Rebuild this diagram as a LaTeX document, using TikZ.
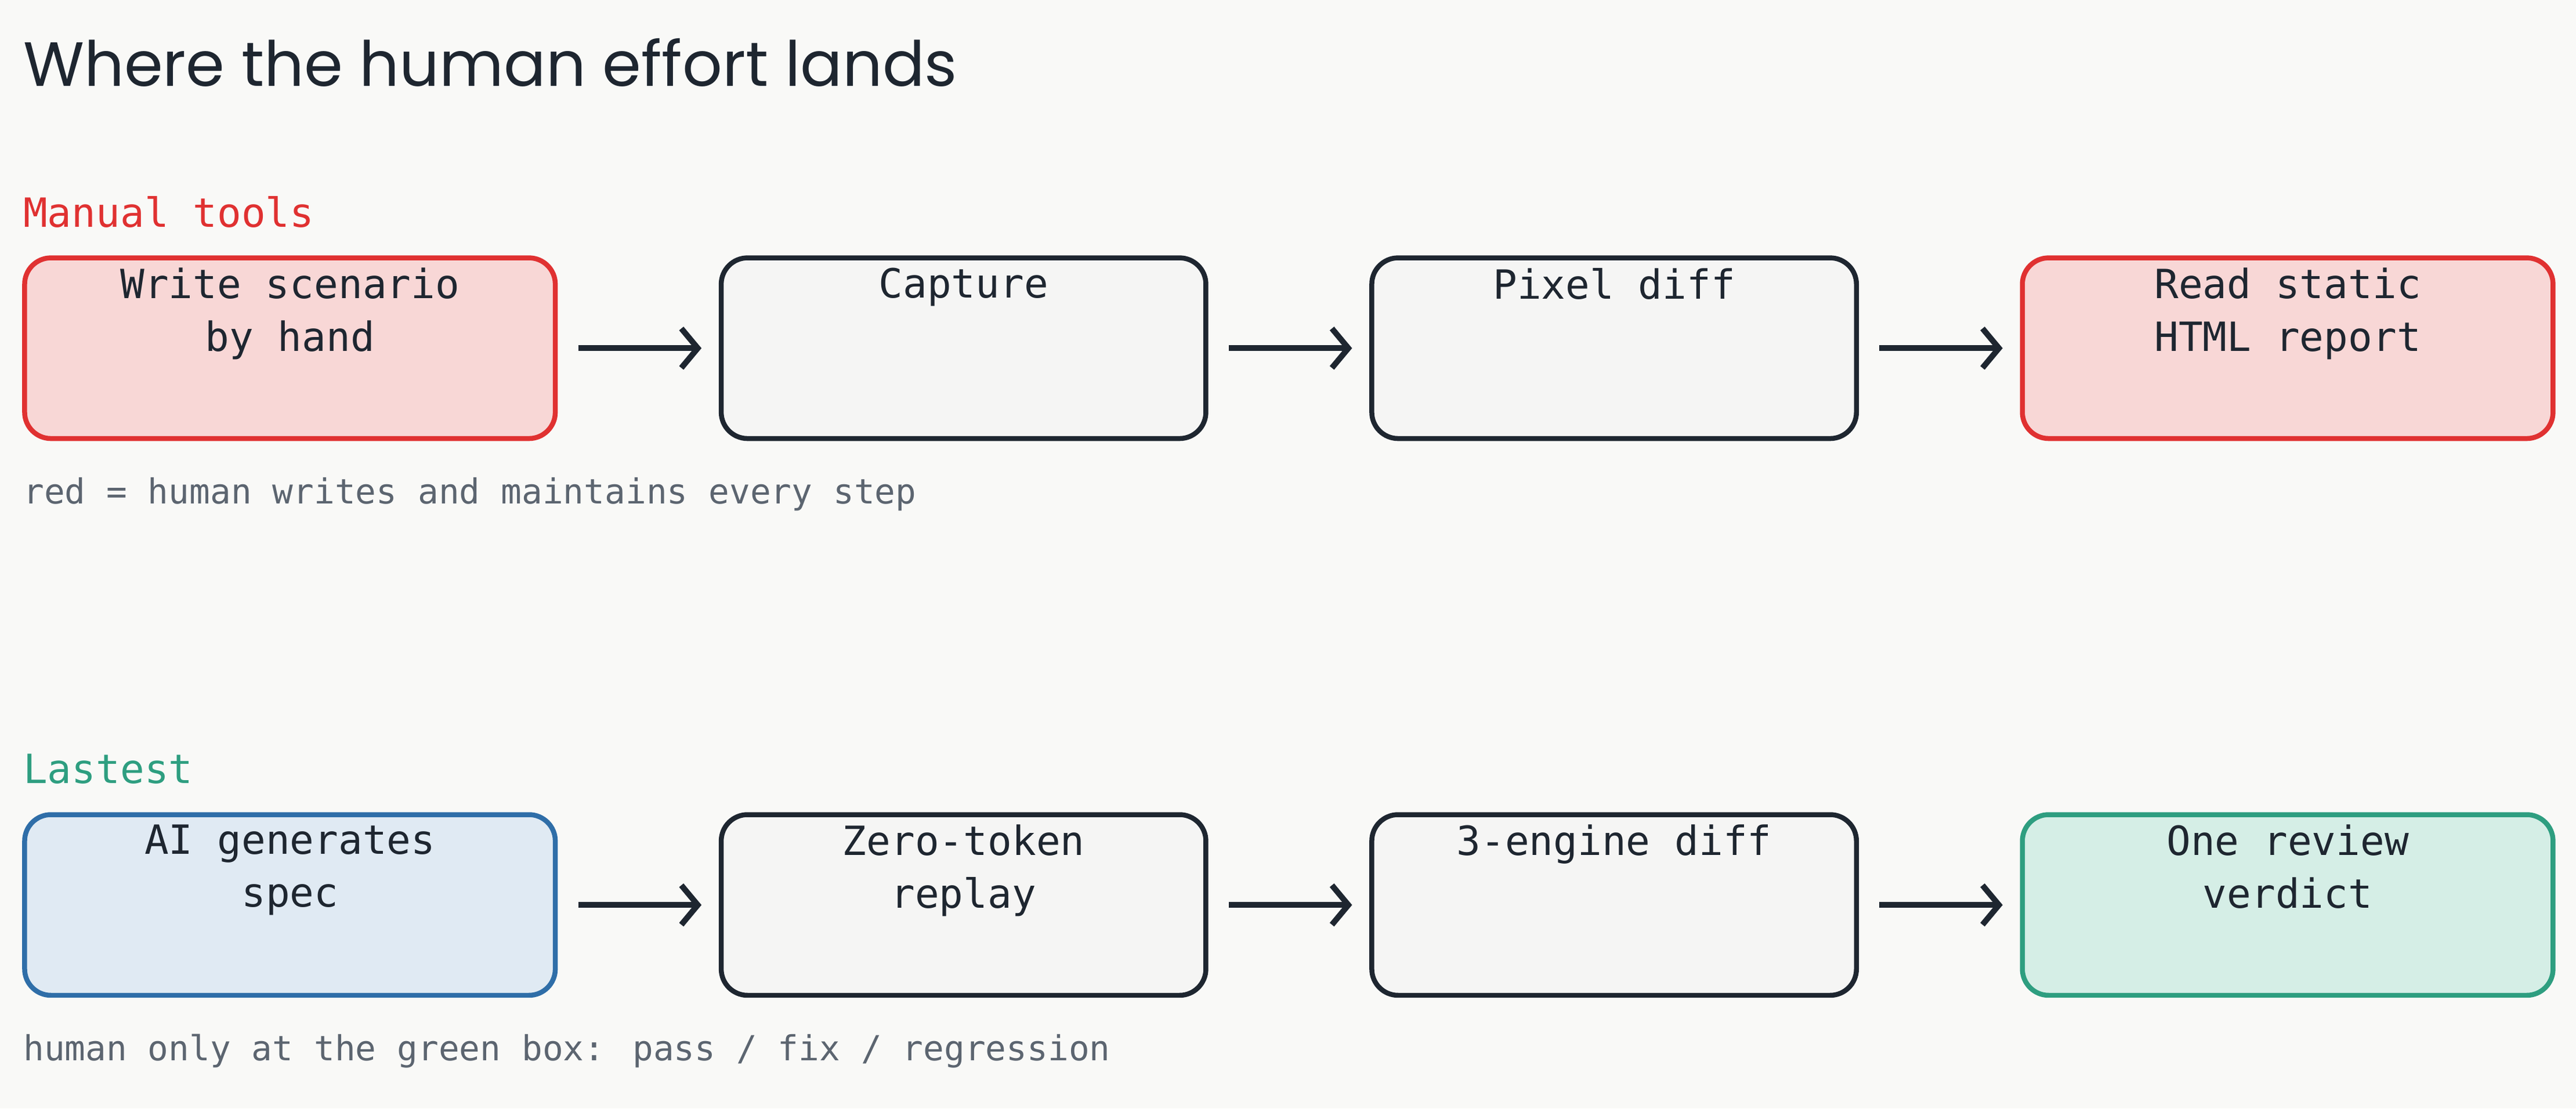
\documentclass[tikz,border=0pt]{standalone}
\usepackage{fontspec}
\setmainfont{DejaVu Sans Mono}
\newfontfamily\titlefont{Poppins}
\usetikzlibrary{arrows.meta,positioning}
\definecolor{bgpaper}{HTML}{F9F9F7}
\definecolor{inkdark}{HTML}{1E2630}
\definecolor{inkgray}{HTML}{5C6570}
\definecolor{redline}{HTML}{E03131}
\definecolor{redfill}{HTML}{F8D7D6}
\definecolor{blueline}{HTML}{2F6EA8}
\definecolor{bluefill}{HTML}{E0EAF3}
\definecolor{greenline}{HTML}{2E9E80}
\definecolor{greenfill}{HTML}{D5EEE6}
\definecolor{grayfill}{HTML}{F5F5F4}
\tikzset{
    % Step box, text set at the top
    stepbox/.style={
        rectangle,
        rounded corners=16pt,
        draw=inkdark,
        fill=grayfill,
        line width=3pt,
        minimum height=110pt,
        minimum width=#1,
        inner sep=0pt,
        outer sep=0pt
    },
    stepbox/.default=295pt,
    steptext/.style={
        font=\fontsize{24.5}{32}\selectfont,
        text=inkdark,
        align=center,
        anchor=north,
        inner sep=0pt
    },
    % Flow arrow
    steparrow/.style={
        -{Straight Barb[length=10pt,width=24pt,line width=3.5pt]},
        line width=3.5pt,
        draw=inkdark
    },
    rowlabel/.style={font=\fontsize{24.5}{30}\selectfont, anchor=west, inner sep=0pt},
    notetext/.style={font=\fontsize{21}{26}\selectfont, text=inkgray, anchor=west, inner sep=0pt}
}
\begin{document}
\begin{tikzpicture}[x=1pt, y=-1pt]

    % Background
    \fill[bgpaper] (0,0) rectangle (1568,675);
    \useasboundingbox (0,0) rectangle (1568,675);

    % Title
    \node[anchor=west, inner sep=0pt, font=\titlefont\fontsize{38}{44}\selectfont, text=inkdark] (title) at (14,38) {Where the human effort lands};

    % Manual tools row
    \node[rowlabel, text=redline] (manual) at (14,129) {Manual tools};
    \node[stepbox=323pt, draw=redline, fill=redfill, anchor=north west] (write) at (15,157) {};
    \node[stepbox, right=101pt of write] (capture) {};
    \node[stepbox, right=101pt of capture] (pixel) {};
    \node[stepbox=323pt, draw=redline, fill=redfill, right=101pt of pixel] (report) {};
    \node[steptext] at ([yshift=-6pt]write.north) {Write scenario\\by hand};
    \node[steptext] at ([yshift=-6pt]capture.north) {Capture};
    \node[steptext] at ([yshift=-6pt]pixel.north) {Pixel diff};
    \node[steptext] at ([yshift=-6pt]report.north) {Read static\\HTML report};
    \draw[steparrow] ([xshift=14pt]write.east) -- ([xshift=-12pt]capture.west);
    \draw[steparrow] ([xshift=14pt]capture.east) -- ([xshift=-12pt]pixel.west);
    \draw[steparrow] ([xshift=14pt]pixel.east) -- ([xshift=-12pt]report.west);
    \node[notetext] (rednote) at (14,301) {red = human writes and maintains every step};

    % Lastest row
    \node[rowlabel, text=greenline] (lastest) at (14,468) {Lastest};
    \node[stepbox=323pt, draw=blueline, fill=bluefill, anchor=north west] (spec) at (15,496) {};
    \node[stepbox, right=101pt of spec] (replay) {};
    \node[stepbox, right=101pt of replay] (engine) {};
    \node[stepbox=323pt, draw=greenline, fill=greenfill, right=101pt of engine] (verdict) {};
    \node[steptext] at ([yshift=-6pt]spec.north) {AI generates\\spec};
    \node[steptext] at ([yshift=-6pt]replay.north) {Zero-token\\replay};
    \node[steptext] at ([yshift=-6pt]engine.north) {3-engine diff};
    \node[steptext] at ([yshift=-6pt]verdict.north) {One review\\verdict};
    \draw[steparrow] ([xshift=14pt]spec.east) -- ([xshift=-12pt]replay.west);
    \draw[steparrow] ([xshift=14pt]replay.east) -- ([xshift=-12pt]engine.west);
    \draw[steparrow] ([xshift=14pt]engine.east) -- ([xshift=-12pt]verdict.west);
    \node[notetext] (greennote) at (14,640) {human only at the green box: pass / fix / regression};

\end{tikzpicture}
\end{document}
